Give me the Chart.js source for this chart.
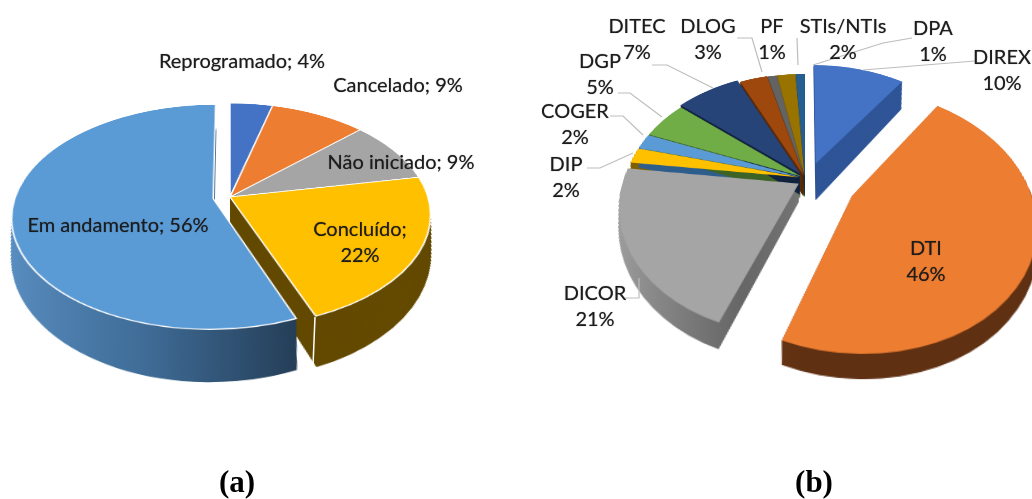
<!DOCTYPE html>
<html>
<head>
<meta charset="utf-8">
<script src="https://cdn.jsdelivr.net/npm/chart.js@4"></script>
<style>
    html, body { margin: 0; background: #fff; }
    #page { position: relative; width: 1032px; height: 499px; overflow: hidden; background: #fff; }
    canvas { position: absolute; }
    .lbl { position: absolute; transform: translate(-50%, -50%); font: 20px Lato, sans-serif; color: #1c1c1c; white-space: nowrap; text-align: center; line-height: 26px; text-shadow: 0 0 1px rgba(0,0,0,0.55); }
    .cap { position: absolute; transform: translate(-50%, -50%); font: bold 31px "Liberation Serif", serif; color: #000; }
    svg { position: absolute; left: 0; top: 0; }
</style>
</head>
<body>
<div id="page">
    <canvas id="pie-a" width="640" height="640"></canvas>
    <canvas id="pie-b" width="640" height="640"></canvas>
    <svg id="leaders" width="1032" height="499"></svg>
</div>
<script>
// Chart (a)
const catA = ["Reprogramado", "Cancelado", "Não iniciado", "Concluído", "Em andamento"];
const valA = [4, 9, 9, 22, 56];
const colorA = ["#4472C4", "#ED7D31", "#A5A5A5", "#FFC000", "#5B9BD5"];
const wallA = [["#2f5597"], ["#9e5020"], ["#6e6e6e"], ["#644a00"], ["#5a8fc2", "#3f6c97", "#21384f"]];
const explodeA = [0, 0, 0, 0, 17];
const nudgeA = [[0, 0], [0, 0], [0, 0], [0, 0], [0, 0]];
const depthA = [63, 63, 63, 63, 63];

// Chart (b)
const catB = ["DIREX", "DTI", "DICOR", "DIP", "COGER", "DGP", "DITEC", "DLOG", "PF", "STIs/NTIs", "DPA"];
const valB = [10, 46, 21, 2, 2, 5, 7, 3, 1, 2, 1];
const colorB = ["#4472C4", "#ED7D31", "#A5A5A5", "#FFC000", "#5B9BD5", "#70AD47", "#264478", "#9E480E", "#636363", "#997300", "#255E91"];
const wallB = [["#2f5597"], ["#854419", "#5f3012", "#5f3012"], ["#a0a0a0", "#666666", "#8c8c8c"], ["#7f6000"], ["#2f5f8c"], ["#3f6428"], ["#12233f"], ["#5a2a08"], ["#3a3a3a"], ["#5a4400"], ["#143650"]];
const explodeB = [22, 50, 6, 5, 5, 5, 8, 4, 3, 3, 3];
const nudgeB = [[4, 0], [2, 1], [-1, 5], [0, 0], [0, 0], [0, 0], [0, 0], [0, 0], [0, 0], [0, 0], [0, 0]];
const depthB = [52, 22, 25, 30, 30, 30, 30, 30, 30, 30, 30];

// Where each label sits, same order as the categories
const placeA = [[242, 60], [398, 84], [401, 161], [360, 241], [118, 224]];
const placeB = [[1002, 69], [926, 260], [595, 305], [566, 176], [575, 123], [600, 73], [637, 38], [708, 38], [772, 38], [843, 38], [933, 40]];
const leaders = [
    [[975, 61], [863, 70]],
    [[912, 38], [883, 43], [813, 65]],
    [[797, 38], [798, 65]],
    [[737, 38], [752, 38], [762, 72]],
    [[652, 65], [667, 65], [713, 88]],
    [[618, 93], [630, 93], [662, 117]],
    [[610, 116], [623, 116], [643, 135]],
    [[587, 168], [600, 168], [633, 153]],
    [[625, 298], [639, 298], [639, 278]]
];
// White corner edge on the wall of Concluído
const cornerEdge = [[315, 317], [313, 366]];

const page = document.getElementById("page");

// Moves slices out by hand and paints the side walls under the top faces.
function wallPlugin(explode, nudge, walls, depth, cfg) {
    const radius = cfg.radius;
    const k = Math.sin(cfg.tilt * Math.PI / 180) / cfg.persp;
    return {
        id: "walls",
        afterDatasetUpdate(chart) {
            chart.getDatasetMeta(0).data.forEach((arc, i) => {
                const mid = (arc.startAngle + arc.endAngle) / 2;
                arc.x += Math.cos(mid) * explode[i] + nudge[i][0];
                arc.y += Math.sin(mid) * explode[i] + nudge[i][1];
            });
        },
        beforeDatasetsDraw(chart) {
            const ctx = chart.ctx;
            const arcs = chart.getDatasetMeta(0).data;
            const order = arcs.map((a, i) => i).sort((p, q) => explode[p] - explode[q]);
            const midX = chart.width / 2;
            order.forEach((i) => {
                const arc = arcs[i];
                const stops = walls[i];
                let fill = stops[0];
                if (stops.length > 1) {
                    fill = ctx.createLinearGradient(arc.x - radius, 0, arc.x + radius * 0.45, 0);
                    stops.forEach((s, n) => fill.addColorStop(n / (stops.length - 1), s));
                }
                const saved = arc.options;
                arc.options = { backgroundColor: fill, borderColor: fill, borderWidth: 0, borderAlign: "center", borderRadius: 0, offset: 0, spacing: 0, circular: true };
                for (let d = depth[i]; d > 0; d -= 0.5) {
                    // pull x in so the wall drops straight down after the tilt
                    ctx.save();
                    ctx.translate(midX, d);
                    ctx.scale(1 - d * k, 1);
                    ctx.translate(-midX, 0);
                    arc.draw(ctx);
                    ctx.restore();
                }
                arc.options = saved;
            });
        }
    };
}

function makePie(id, cats, vals, colors, plugin, cfg) {
    const el = document.getElementById(id);
    el.style.left = (cfg.cx - 320) + "px";
    el.style.top = (cfg.cy - 320) + "px";
    el.style.transform = "perspective(" + cfg.persp + "px) rotateX(" + cfg.tilt + "deg)";
    new Chart(el, {
        type: "pie",
        data: {
            labels: cats,
            datasets: [{ data: vals, backgroundColor: colors, borderColor: cfg.edge, borderWidth: cfg.edgeW }]
        },
        options: {
            responsive: false,
            animation: false,
            devicePixelRatio: 1,
            radius: cfg.radius,
            layout: { padding: 0 },
            plugins: { legend: { display: false }, tooltip: { enabled: false } }
        },
        plugins: [plugin]
    });
}

const cfgA = { cx: 230, cy: 197, radius: 198, persp: 1027, tilt: 56.6, edge: "#ffffff", edgeW: 1.5 };
const cfgB = { cx: 805, cy: 178, radius: 175, persp: 685, tilt: 46, edge: "rgba(255,255,255,0)", edgeW: 0 };
makePie("pie-a", catA, valA, colorA, wallPlugin(explodeA, nudgeA, wallA, depthA, cfgA), cfgA);
makePie("pie-b", catB, valB, colorB, wallPlugin(explodeB, nudgeB, wallB, depthB, cfgB), cfgB);

function addLabel(cls, x, y, html) {
    const d = document.createElement("div");
    d.className = cls;
    d.style.left = x + "px";
    d.style.top = y + "px";
    d.innerHTML = html;
    page.appendChild(d);
}

catA.forEach((c, i) => {
    const sep = c === "Concluído" ? ";<br>" : "; ";
    addLabel("lbl", placeA[i][0], placeA[i][1], c + sep + valA[i] + "%");
});
catB.forEach((c, i) => {
    addLabel("lbl", placeB[i][0], placeB[i][1], c + "<br>" + valB[i] + "%");
});
addLabel("cap", 237, 482, "(a)");
addLabel("cap", 814, 482, "(b)");

// Leader lines of chart (b)
const svg = document.getElementById("leaders");
function addLine(pts, color, width) {
    const line = document.createElementNS("http://www.w3.org/2000/svg", "polyline");
    line.setAttribute("points", pts.map((p) => p.join(",")).join(" "));
    line.setAttribute("fill", "none");
    line.setAttribute("stroke", color);
    line.setAttribute("stroke-width", width);
    svg.appendChild(line);
}
leaders.forEach((pts) => addLine(pts, "#bdbdbd", "1.2"));
addLine(cornerEdge, "#ffffff", "1.5");
</script>
</body>
</html>
